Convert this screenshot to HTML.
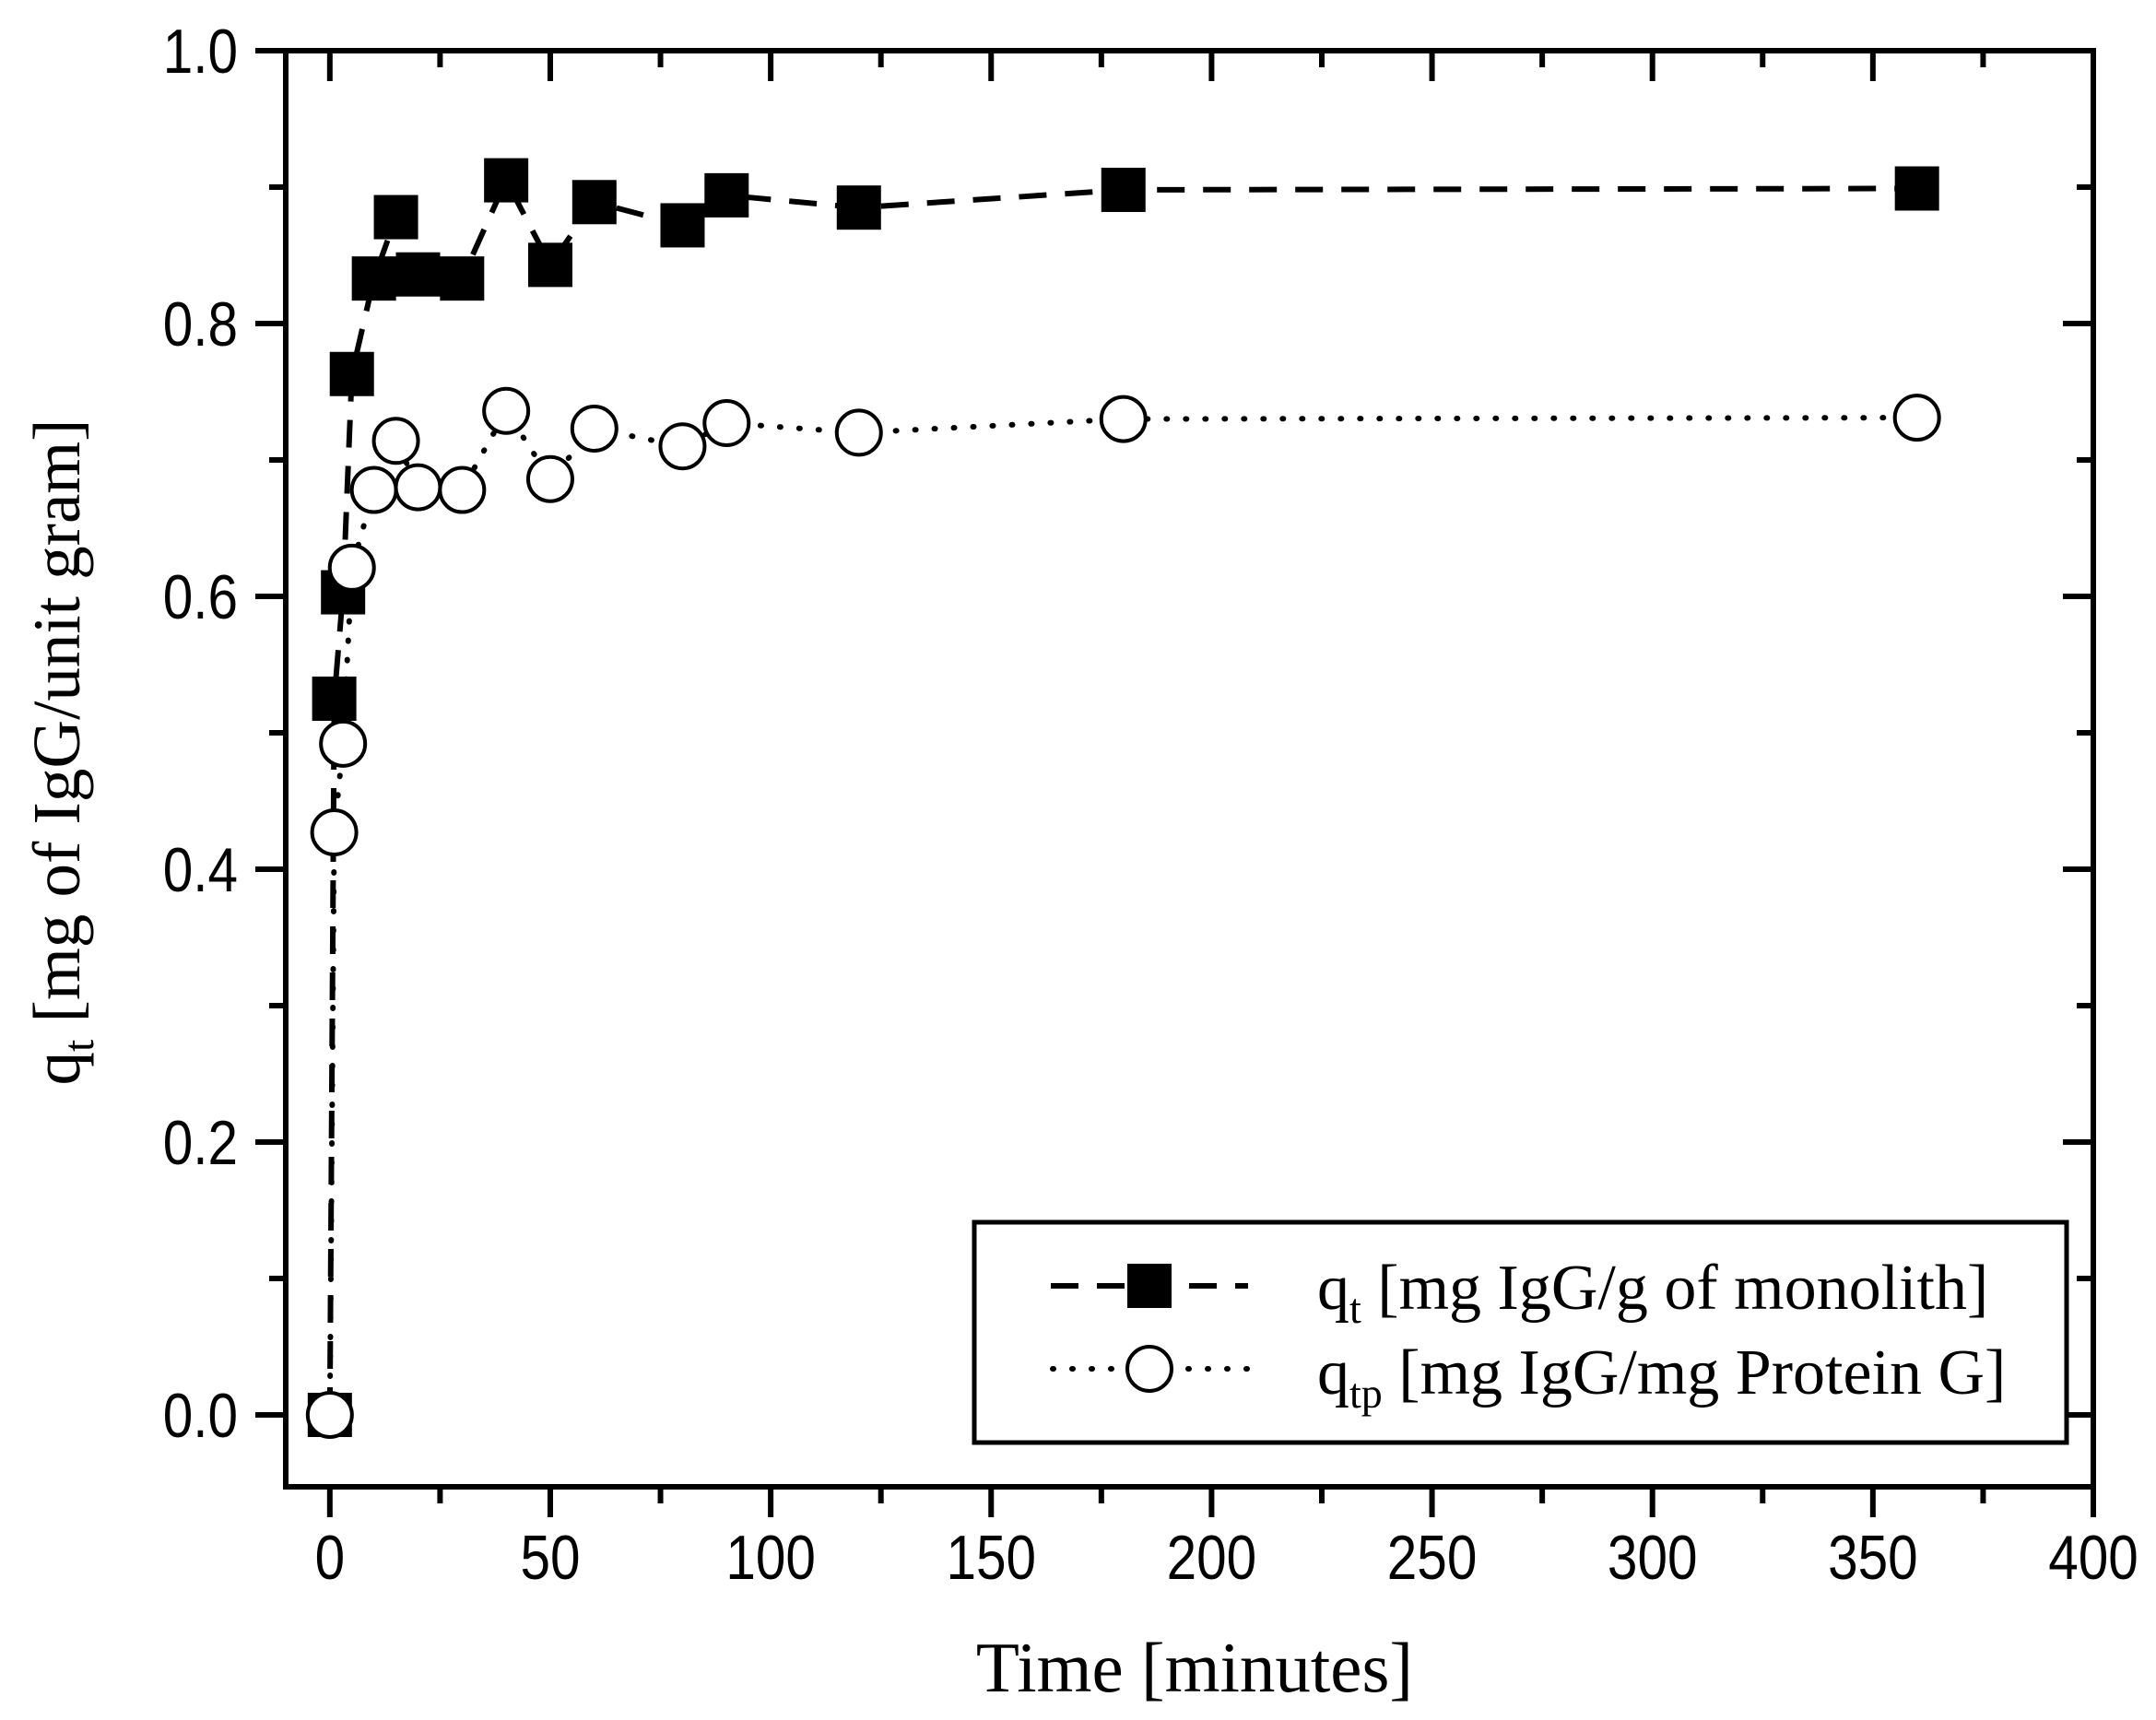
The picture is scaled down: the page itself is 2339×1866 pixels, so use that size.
<!DOCTYPE html>
<html><head><meta charset="utf-8"><style>
html,body{margin:0;padding:0;background:#fff;}
svg{display:block;}
.tick{font-family:"Liberation Sans",Arial,sans-serif;font-size:68px;}
.serif{font-family:"Liberation Serif","Times New Roman",serif;}
</style></head><body>
<svg id="chart" width="2339" height="1866" viewBox="0 0 2339 1866" xmlns="http://www.w3.org/2000/svg">
<g id="axes"></g><g id="series"></g><g id="legend"></g>
<text class="serif" x="1296" y="1835" font-size="77" text-anchor="middle">Time [minutes]</text>
<text class="serif" transform="translate(86,816) rotate(-90)" font-size="73" text-anchor="middle">q<tspan font-size="48" dy="15">t</tspan><tspan dy="-15"> [mg of IgG/unit gram]</tspan></text>
</svg>
<script>
const times = [0,1,3,5,10,15,20,30,40,50,60,80,90,120,180,360];
const qt = [0.0,0.525,0.603,0.763,0.833,0.878,0.836,0.833,0.905,0.843,0.889,0.872,0.894,0.885,0.898,0.899];
const qtp = [0.0,0.427,0.492,0.621,0.678,0.714,0.68,0.678,0.736,0.686,0.723,0.71,0.727,0.72,0.73,0.731];
const xTicks = [0,50,100,150,200,250,300,350,400];
const yTicks = [0.0,0.2,0.4,0.6,0.8,1.0];
const yTickLabels = ["0.0","0.2","0.4","0.6","0.8","1.0"];

const NS="http://www.w3.org/2000/svg";
const L=310,R=2271,T=55,B=1613;
const xMin=-10,xMax=400,yMin=-0.0527,yMax=1.0;
const X=v=>L+(v-xMin)/(xMax-xMin)*(R-L);
const Y=v=>B-(v-yMin)/(yMax-yMin)*(B-T);
function mk(tag,attrs,parent){const e=document.createElementNS(NS,tag);for(const k in attrs)e.setAttribute(k,attrs[k]);parent.appendChild(e);return e;}
const axes=document.getElementById('axes');
const frame=mk('rect',{x:L,y:T,width:R-L,height:B-T,fill:'none',stroke:'#000','stroke-width':6},axes);


for(let i=0;i<xTicks.length;i++){
  const v=xTicks[i],x=X(v);
  const t=mk('line',{x1:x,y1:B,x2:x,y2:B+33,stroke:'#000','stroke-width':6},axes);
  
  
  mk('line',{x1:x,y1:T,x2:x,y2:T+33,stroke:'#000','stroke-width':6},axes);
  if(i<xTicks.length-1){const m=X(v+25);
    mk('line',{x1:m,y1:B,x2:m,y2:B+18,stroke:'#000','stroke-width':6},axes);
    mk('line',{x1:m,y1:T,x2:m,y2:T+18,stroke:'#000','stroke-width':6},axes);}
  const lb=mk('text',{transform:`translate(${x},${B+100}) scale(0.86,1)`,'text-anchor':'middle',class:'tick'},axes);
  lb.textContent=String(v);
  
  
}
for(let i=0;i<yTicks.length;i++){
  const v=yTicks[i],y=Y(v);
  const t=mk('line',{x1:L-33,y1:y,x2:L,y2:y,stroke:'#000','stroke-width':6},axes);
  
  
  mk('line',{x1:R-33,y1:y,x2:R,y2:y,stroke:'#000','stroke-width':6},axes);
  if(i<yTicks.length-1){const m=Y(v+0.1);
    mk('line',{x1:L-18,y1:m,x2:L,y2:m,stroke:'#000','stroke-width':6},axes);
    mk('line',{x1:R-18,y1:m,x2:R,y2:m,stroke:'#000','stroke-width':6},axes);}
  const lb=mk('text',{transform:`translate(${L-52},${y+24}) scale(0.86,1)`,'text-anchor':'end',class:'tick'},axes);
  lb.textContent=yTickLabels[i];
  
  
}
const series=document.getElementById('series');
const p1=mk('polyline',{points:times.map((t,i)=>X(t)+','+Y(qt[i])).join(' '),fill:'none',stroke:'#000','stroke-width':6,'stroke-dasharray':'30 20'},series);


const p2=mk('polyline',{points:times.map((t,i)=>X(t)+','+Y(qtp[i])).join(' '),fill:'none',stroke:'#000','stroke-width':6,'stroke-dasharray':'1 20','stroke-linecap':'round'},series);


times.forEach((t,i)=>{
  const s=mk('rect',{x:X(t)-24,y:Y(qt[i])-24,width:48,height:48,fill:'#000'},series);
  
  
});
times.forEach((t,i)=>{
  const c=mk('circle',{cx:X(t),cy:Y(qtp[i]),r:24,fill:'#fff',stroke:'#000','stroke-width':4},series);
  
  
});
const lg=document.getElementById('legend');
const box=mk('rect',{x:1057,y:1326,width:1185,height:239,fill:'#fff',stroke:'#000','stroke-width':5},lg);


const l1=mk('line',{x1:1140,y1:1395,x2:1354,y2:1395,stroke:'#000','stroke-width':6,'stroke-dasharray':'30 20'},lg);


mk('rect',{x:1223,y:1371,width:48,height:48,fill:'#000'},lg);
const l2=mk('line',{x1:1142,y1:1485,x2:1354,y2:1485,stroke:'#000','stroke-width':6,'stroke-dasharray':'1 20','stroke-linecap':'round'},lg);


mk('circle',{cx:1247,cy:1485,r:24,fill:'#fff',stroke:'#000','stroke-width':4},lg);
const t1=mk('text',{x:1429,y:1420,class:'serif','font-size':70},lg);
t1.innerHTML='q<tspan font-size="46" dy="15">t</tspan><tspan dy="-15"> [mg IgG/g of monolith]</tspan>';


const t2=mk('text',{x:1429,y:1512,class:'serif','font-size':70},lg);
t2.innerHTML='q<tspan font-size="46" dy="15">tp</tspan><tspan dy="-15"> [mg IgG/mg Protein G]</tspan>';


</script>
</body></html>
